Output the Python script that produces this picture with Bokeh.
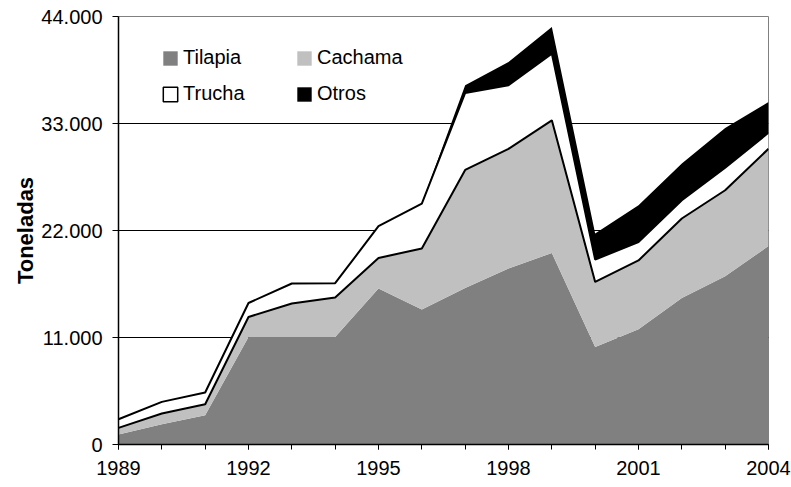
from bokeh.plotting import figure
from bokeh.models import (ColumnDataSource, FixedTicker, Legend, LegendItem,
                          Label, Range1d)
from bokeh.transform import stack
from bokeh.embed import file_html
from bokeh.resources import INLINE

# ---------------- data ----------------
years = list(range(1989, 2005))
tilapia = [1030, 2090, 3010, 11060, 11060, 11060, 16030, 13870,
           16100, 18090, 19690, 10030, 11850, 15070, 17300, 20400]
cachama = [680, 1100, 1130, 2050, 3430, 4050, 3150, 6270,
           12130, 12310, 13640, 6680, 7070, 8160, 8840, 10000]
trucha = [890, 1190, 1200, 1440, 2060, 1470, 3260, 4630,
          7910, 6530, 6850, 2300, 1900, 1880, 2310, 1650]
otros = [0, 0, 0, 0, 0, 0, 0, 0,
         790, 2390, 2740, 2690, 3770, 3770, 4100, 3160]

series_keys = ["tilapia", "cachama", "trucha", "otros"]
series_names = ["Tilapia", "Cachama", "Trucha", "Otros"]
series_colors = ["#808080", "#C0C0C0", "#FFFFFF", "#000000"]

x_tick_years = [1989, 1992, 1995, 1998, 2001, 2004]
x_tick_labels = ["1989", "1992", "1995", "1998", "2001", "2004"]
y_ticks = [0, 11000, 22000, 33000, 44000]
y_tick_labels = ["0", "11.000", "22.000", "33.000", "44.000"]
title_text = "COLOMBIA"
y_label = "Toneladas"

FONT = "Liberation Sans"

source = ColumnDataSource(dict(year=years, tilapia=tilapia, cachama=cachama,
                               trucha=trucha, otros=otros))

p = figure(width=791, height=487,
           x_range=Range1d(years[0], years[-1]),
           y_range=Range1d(y_ticks[0], y_ticks[-1]),
           output_backend="svg", toolbar_location=None,
           min_border_left=118, min_border_right=23,
           min_border_top=16, min_border_bottom=43)
p.background_fill_color = "white"
p.border_fill_color = "white"
p.outline_line_color = "#808080"
p.outline_line_width = 1

areas = p.varea_stack(series_keys, x="year", color=series_colors,
                      source=source)
p.line(x="year", y=stack("tilapia", "cachama"), line_color="black",
       line_width=2, source=source)
p.line(x="year", y=stack("tilapia", "cachama", "trucha"), line_color="black",
       line_width=2, source=source)

# glyph with no visible data, used only as the bordered legend swatch of "Trucha"
nan = float("nan")
trucha_box = p.quad(left=[nan], right=[nan], top=[nan], bottom=[nan],
                    fill_color="white", line_color="black", line_width=1.5)

# grid
p.xgrid.visible = False
p.ygrid.ticker = FixedTicker(ticks=y_ticks[1:-1])
p.ygrid.grid_line_color = "black"
p.ygrid.grid_line_width = 1

# y axis
ya = p.yaxis[0]
ya.ticker = FixedTicker(ticks=y_ticks)
ya.major_label_overrides = {t: l for t, l in zip(y_ticks, y_tick_labels)}
ya.major_label_text_font = FONT
ya.major_label_text_font_size = "20px"
ya.major_label_text_color = "black"
ya.major_tick_out = 6
ya.major_tick_in = 0
ya.minor_tick_line_color = None
ya.major_label_standoff = 10
ya.axis_line_color = "black"
ya.axis_line_width = 1.5
ya.major_tick_line_color = "black"
ya.axis_label = y_label
ya.axis_label_text_font = FONT
ya.axis_label_text_font_size = "22px"
ya.axis_label_text_font_style = "bold"
ya.axis_label_text_color = "black"
ya.axis_label_standoff = 0

# x axis
xa = p.xaxis[0]
xa.ticker = FixedTicker(ticks=x_tick_years, minor_ticks=years)
xa.major_label_overrides = {t: l for t, l in zip(x_tick_years, x_tick_labels)}
xa.major_label_text_font = FONT
xa.major_label_text_font_size = "20px"
xa.major_label_text_color = "black"
xa.major_tick_out = 5
xa.major_tick_in = 0
xa.minor_tick_out = 5
xa.minor_tick_in = 0
xa.minor_tick_line_color = "black"
xa.major_tick_line_color = "black"
xa.major_label_standoff = 11
xa.axis_line_color = "black"
xa.axis_line_width = 1.5

# legend (two columns, no frame)
def make_legend(items, loc):
    return Legend(items=items, location=loc, orientation="vertical",
                  border_line_color=None, background_fill_alpha=0,
                  padding=0, margin=0, spacing=13,
                  glyph_width=18, glyph_height=18, label_standoff=4,
                  label_text_font=FONT, label_text_font_size="20px",
                  label_text_color="black")

leg1 = make_legend([LegendItem(label=series_names[0], renderers=[areas[0]]),
                    LegendItem(label=series_names[2], renderers=[trucha_box])],
                   (43, 339))
leg2 = make_legend([LegendItem(label=series_names[1], renderers=[areas[1]]),
                    LegendItem(label=series_names[3], renderers=[areas[3]])],
                   (177, 339))
p.add_layout(leg1)
p.add_layout(leg2)

# title at the top edge, kept fully inside the page
title = Label(x=287, y=436, x_units="screen", y_units="screen",
              text=title_text, text_align="center", text_baseline="alphabetic",
              text_font=FONT, text_font_size="15px", text_font_style="bold",
              text_color="black")
p.add_layout(title)

open("out.html", "w").write(file_html(p, INLINE))
